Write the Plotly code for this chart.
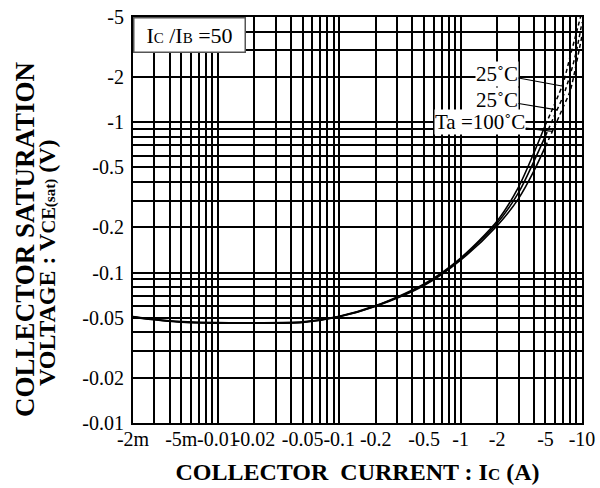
import numpy as np
import plotly.graph_objects as go

# ---------------- data (magnitudes; the chart labels them negative) ----------------
ic_amps = [0.002, 0.003, 0.005, 0.01, 0.02, 0.05, 0.1, 0.2, 0.5, 1, 2, 3, 4, 5, 6, 7, 8, 9, 10]
vce_25_upper = [0.0510, 0.0490, 0.0473, 0.0465, 0.0464, 0.0470, 0.0512, 0.0603, 0.0840, 0.125, 0.220,
                0.37, 0.62, 0.96, 1.34, 1.82, 2.75, 3.94, 5.46]
vce_25_mid = [0.0508, 0.0488, 0.0470, 0.0463, 0.0462, 0.0468, 0.0510, 0.0600, 0.0830, 0.123, 0.213,
              0.34, 0.545, 0.81, 1.13, 1.49, 2.07, 2.98, 4.6]
vce_100 = [0.0506, 0.0486, 0.0467, 0.0461, 0.0460, 0.0466, 0.0508, 0.0597, 0.0820, 0.121, 0.205,
           0.31, 0.47, 0.69, 0.95, 1.26, 1.62, 2.47, 3.76]
curve_labels = ["25˚C", "25˚C", "Ta =100˚C"]
dash_from_ic = 5  # curves drawn dashed above this current

x_tick_vals = [0.002, 0.005, 0.01, 0.02, 0.05, 0.1, 0.2, 0.5, 1, 2, 5, 10]
x_tick_text = ["-2m", "-5m", "-0.01", "-0.02", "-0.05", "-0.1", "-0.2", "-0.5", "-1", "-2", "-5", "-10"]
y_tick_vals = [0.01, 0.02, 0.05, 0.1, 0.2, 0.5, 1, 2, 5]
y_tick_text = ["-0.01", "-0.02", "-0.05", "-0.1", "-0.2", "-0.5", "-1", "-2", "-5"]

x_min, x_max = 0.002, 10
y_min, y_max = 0.01, 5

SERIF = "Liberation Serif"


def log_grid(lo, hi):
    vals = []
    for e in range(-4, 3):
        for m in range(1, 10):
            v = round(m * 10.0 ** e, 6)
            if lo - 1e-9 <= v <= hi + 1e-9:
                vals.append(v)
    return vals


def with_labels(grid, tv, tt):
    lab = {round(v, 6): t for v, t in zip(tv, tt)}
    return grid, [lab.get(round(v, 6), "") for v in grid]


xg, xt = with_labels(log_grid(x_min, x_max), x_tick_vals, x_tick_text)
yg, yt = with_labels(log_grid(y_min, y_max), y_tick_vals, y_tick_text)

fig = go.Figure()

series = [vce_25_upper, vce_25_mid, vce_100]
split = ic_amps.index(dash_from_ic)
for name, v in zip(curve_labels, series):
    fig.add_trace(go.Scatter(x=ic_amps[:split + 1], y=v[:split + 1], mode="lines", name=name,
                             line=dict(color="black", width=1.6, shape="spline", smoothing=0.8),
                             showlegend=False, hoverinfo="skip"))
    fig.add_trace(go.Scatter(x=ic_amps[split:], y=v[split:], mode="lines", name=name,
                             line=dict(color="black", width=1.5, dash="4px,3px", shape="spline", smoothing=0.8),
                             showlegend=False, hoverinfo="skip"))


def interp_log(ic, xs, ys):
    return float(10 ** np.interp(np.log10(ic), np.log10(xs), np.log10(ys)))


# leader-line annotations (anchored on the curves)
anchors = [6.84, 6.22, 5.7]
offsets = [(-65, -12), (-60, -10), (-72, -9)]
for lab, v, a, (ax, ay) in zip(curve_labels, series, anchors, offsets):
    vy = interp_log(a, ic_amps, v)
    fig.add_annotation(x=np.log10(a), y=np.log10(vy), xref="x", yref="y",
                       text=lab, showarrow=True, arrowhead=0, arrowwidth=1.2, arrowcolor="black",
                       ax=ax, ay=ay, axref="pixel", ayref="pixel",
                       bgcolor="white", borderpad=0,
                       font=dict(family=SERIF, size=21, color="black"))

# condition box
fig.add_annotation(x=0, y=1, xref="paper", yref="paper", xanchor="left", yanchor="top",
                   text="I<span style='font-size:15px'>C</span> /I<span style='font-size:15px'>B</span> =50",
                   showarrow=False, bgcolor="white", bordercolor="#555", borderwidth=1.5, borderpad=1,
                   width=108, height=31, align="center",
                   font=dict(family=SERIF, size=22, color="black"))

# y-axis title (two lines)
fig.add_annotation(x=0, y=0.451, xref="paper", yref="paper", xshift=-108, textangle=-90,
                   xanchor="center", yanchor="middle", showarrow=False,
                   text="<b>COLLECTOR SATURATION</b>",
                   font=dict(family=SERIF, size=27, color="black"))
fig.add_annotation(x=0, y=0.394, xref="paper", yref="paper", xshift=-86, textangle=-90,
                   xanchor="center", yanchor="middle", showarrow=False,
                   text="<b>VOLTAGE : V<span style='font-size:19px'>CE</span>"
                        "<span style='font-size:15px'>(sat)</span> (V)</b>",
                   font=dict(family=SERIF, size=24, color="black"))

axis_common = dict(showgrid=True, gridcolor="black", gridwidth=1.5, showline=True, linecolor="black",
                   linewidth=2, mirror=True, zeroline=False, ticks="", tickangle=0,
                   tickfont=dict(family=SERIF, size=20, color="black"))

fig.update_xaxes(type="log", range=[np.log10(x_min), np.log10(x_max)], tickmode="array",
                 tickvals=xg, ticktext=xt, ticklabelstandoff=-3,
                 title=dict(text="<b>COLLECTOR  CURRENT : I<span style='font-size:17px'>C</span> (A)</b>",
                            font=dict(family=SERIF, size=24, color="black"), standoff=14),
                 automargin=False, **axis_common)
fig.update_yaxes(type="log", range=[np.log10(y_min), np.log10(y_max)], tickmode="array",
                 tickvals=yg, ticktext=yt, ticklabelstandoff=3, automargin=False, **axis_common)

fig.update_layout(width=600, height=488, autosize=False,
                  margin=dict(l=133, r=18, t=17, b=65),
                  paper_bgcolor="white", plot_bgcolor="white", showlegend=False)

fig.write_html("out.html", config={"displayModeBar": False},
               post_script="document.body.style.margin='0';document.body.style.overflow='hidden';")
